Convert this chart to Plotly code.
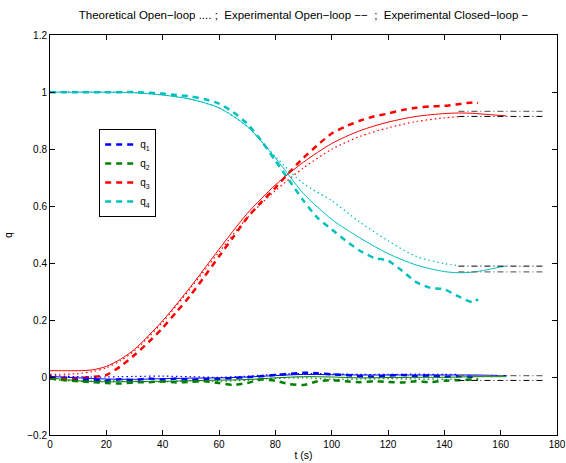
import plotly.graph_objects as go

# ---------------- data ----------------
# Experimental closed-loop (solid)
t_cl = [0, 10, 20, 30, 40, 50, 60, 70, 80, 90, 100, 110, 120, 130, 140, 150, 162]
q1_cl = [0.005, 0.0, -0.004, -0.005, -0.003, -0.001, 0.0, 0.003, 0.008, 0.012, 0.011, 0.010, 0.010, 0.010, 0.010, 0.010, 0.008]
q2_cl = [0.0, -0.010, -0.014, -0.013, -0.012, -0.010, -0.008, -0.006, 0.0, 0.004, 0.003, 0.0, 0.001, 0.002, 0.002, 0.004, 0.004]
t_cl34 = [0, 5, 10, 15, 20, 25, 30, 40, 50, 60, 70, 80, 90, 100, 110, 120, 130, 140, 145, 150, 155, 162]
q3_cl = [0.025, 0.025, 0.025, 0.028, 0.040, 0.065, 0.10, 0.20, 0.32, 0.45, 0.575, 0.675, 0.755, 0.82, 0.865, 0.895, 0.915, 0.925, 0.927, 0.926, 0.922, 0.917]
q4_cl = [1.0, 1.0, 1.0, 1.0, 1.0, 0.999, 0.998, 0.99, 0.975, 0.945, 0.88, 0.77, 0.645, 0.555, 0.49, 0.435, 0.395, 0.372, 0.368, 0.370, 0.378, 0.392]

# Experimental open-loop (dashed)
t_ol = [0, 5, 10, 15, 20, 25, 30, 35, 40, 45, 50, 55, 60, 65, 70, 75, 80, 85, 90, 95,
        100, 105, 110, 115, 120, 125, 130, 135, 140, 145, 150, 152]
q1_ol = [0.0, -0.005, -0.008, -0.006, -0.010, -0.005, -0.008, -0.002, -0.006, -0.002, -0.008, -0.004, -0.004, 0.0, 0.002, 0.006,
         0.010, 0.014, 0.018, 0.016, 0.012, 0.010, 0.006, 0.004, 0.008, 0.010, 0.006, 0.008, 0.004, 0.006, 0.004, 0.005]
q2_ol = [-0.002, -0.008, -0.012, -0.015, -0.018, -0.020, -0.016, -0.015, -0.013, -0.016, -0.014, -0.012, -0.018, -0.025, -0.018, -0.006,
         -0.010, -0.022, -0.025, -0.012, -0.008, -0.012, -0.015, -0.012, -0.014, -0.016, -0.012, -0.015, -0.010, -0.008, -0.006, -0.006]
q3_ol = [0.0, 0.0, 0.0, 0.003, 0.010, 0.040, 0.080, 0.125, 0.175, 0.232, 0.29, 0.357, 0.425, 0.492, 0.56, 0.615, 0.665, 0.72, 0.77, 0.815,
         0.855, 0.88, 0.90, 0.915, 0.925, 0.937, 0.945, 0.950, 0.952, 0.958, 0.964, 0.962]
q4_ol = [1.0, 1.0, 1.0, 1.0, 1.0, 1.0, 1.0, 0.998, 0.995, 0.99, 0.985, 0.975, 0.96, 0.93, 0.89, 0.83, 0.76, 0.69, 0.62, 0.56,
         0.52, 0.48, 0.445, 0.42, 0.41, 0.375, 0.335, 0.315, 0.31, 0.285, 0.265, 0.275]

# Theoretical open-loop (dotted)
t_th = [0, 10, 15, 20, 25, 30, 40, 50, 60, 70, 80, 90, 100, 110, 120, 130, 140, 145]
q1_th = [0.008, 0.004, 0.003, 0.003, 0.004, 0.005, 0.006, 0.004, 0.002, 0.006, 0.012, 0.015, 0.014, 0.012, 0.012, 0.013, 0.012, 0.012]
q2_th = [-0.005, -0.012, -0.011, -0.010, -0.011, -0.012, -0.014, -0.010, -0.012, -0.008, -0.002, 0.0, -0.005, -0.004, -0.003, -0.004, -0.005, -0.005]
q3_th = [0.012, 0.015, 0.022, 0.035, 0.060, 0.095, 0.195, 0.315, 0.44, 0.56, 0.655, 0.735, 0.80, 0.845, 0.875, 0.897, 0.910, 0.914]
q4_th = [1.0, 1.0, 1.0, 1.0, 1.0, 0.998, 0.99, 0.975, 0.945, 0.88, 0.775, 0.68, 0.62, 0.545, 0.48, 0.425, 0.40, 0.393]

# Steady-state reference levels (dash-dot)
ref_t = [145, 175]
ref_black = [0.915, 0.391, -0.009]
ref_gray = [0.933, 0.371, 0.008]

names = ["q<sub>1</sub>", "q<sub>2</sub>", "q<sub>3</sub>", "q<sub>4</sub>"]
colors = ["rgb(0,0,255)", "rgb(0,128,0)", "rgb(255,0,0)", "rgb(0,191,191)"]

title_text = "Theoretical Open\u2212loop .... ;  Experimental Open\u2212loop \u2212\u2212  ;  Experimental Closed\u2212loop \u2212"

# ---------------- figure ----------------
fig = go.Figure()

cl_sets = [(t_cl, q1_cl), (t_cl, q2_cl), (t_cl34, q3_cl), (t_cl34, q4_cl)]
ol_sets = [q1_ol, q2_ol, q3_ol, q4_ol]
th_sets = [q1_th, q2_th, q3_th, q4_th]

for i in range(4):
    fig.add_trace(go.Scatter(x=t_ol, y=ol_sets[i], mode="lines", name=names[i],
                             line=dict(color=colors[i], width=2.5, dash="6px,5px", shape="spline", smoothing=0.6),
                             showlegend=True))
for i in range(4):
    fig.add_trace(go.Scatter(x=t_th, y=th_sets[i], mode="lines", showlegend=False,
                             line=dict(color=colors[i], width=1.2, dash="1.5px,3px", shape="spline", smoothing=0.8)))
for i in range(4):
    tt, qq = cl_sets[i]
    fig.add_trace(go.Scatter(x=tt, y=qq, mode="lines", showlegend=False,
                             line=dict(color=colors[i], width=1, shape="spline", smoothing=0.8)))

for lv in ref_black:
    fig.add_trace(go.Scatter(x=ref_t, y=[lv, lv], mode="lines", showlegend=False,
                             line=dict(color="black", width=1, dash="6px,3px,1px,3px")))
for lv in ref_gray:
    fig.add_trace(go.Scatter(x=ref_t, y=[lv, lv], mode="lines", showlegend=False,
                             line=dict(color="rgb(110,110,110)", width=1.3, dash="6px,3px,1px,3px")))

font_family = "Liberation Sans, Arial, sans-serif"

W, H = 566, 463
fig.update_layout(
    width=W, height=H,
    margin=dict(l=50, r=9, t=35, b=28, autoexpand=False),
    paper_bgcolor="white", plot_bgcolor="white",
    font=dict(family=font_family, size=10, color="black"),
    title=dict(text=title_text, x=303.5 / W, xanchor="center", y=1 - 15 / H, yanchor="middle",
               font=dict(size=11.5, family=font_family, color="black")),
    showlegend=True,
    legend=dict(x=0.097, y=0.765, xanchor="left", yanchor="top",
                bordercolor="black", borderwidth=1, bgcolor="white",
                font=dict(size=10, family=font_family), tracegroupgap=0, itemwidth=30),
    xaxis=dict(range=[0, 180], dtick=20, tick0=0, ticks="inside", ticklen=5, tickcolor="black",
               showline=True, linecolor="black", linewidth=1, mirror="ticks",
               showgrid=False, zeroline=False,
               title=dict(text="t (s)", standoff=2, font=dict(size=10.5)), automargin=False),
    yaxis=dict(range=[-0.2, 1.2], dtick=0.2, tick0=0, ticks="inside", ticklen=5, tickcolor="black",
               showline=True, linecolor="black", linewidth=1, mirror="ticks",
               showgrid=False, zeroline=False,
               title=dict(text="q", standoff=12, font=dict(size=10.5)), automargin=False),
)

# remove the default 8px page margin so the figure fills the window exactly
fig.write_html("out.html",
               config={"displayModeBar": False},
               post_script="document.body.style.margin='0';document.body.style.overflow='hidden';")
